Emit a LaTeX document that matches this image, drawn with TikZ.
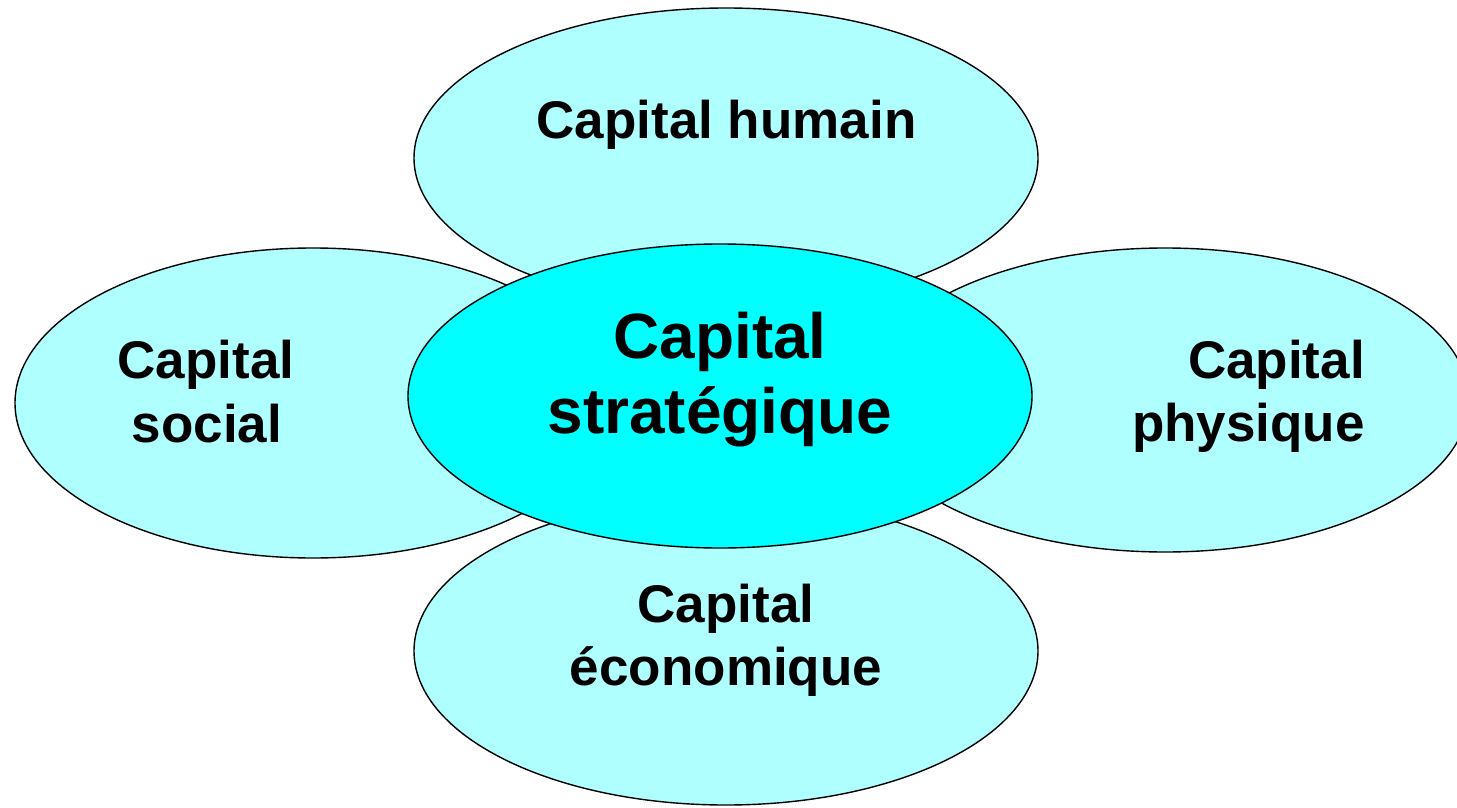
\documentclass[tikz,border=0pt]{standalone}
\usepackage{fontspec}
\setmainfont{Liberation Sans}
\usetikzlibrary{shapes.geometric}
\definecolor{outercyan}{HTML}{AFFFFF}
\definecolor{innercyan}{HTML}{00FFFF}
\tikzset{
  blob/.style={ellipse, draw=black, line width=1.4pt, inner sep=0pt},
  outerblob/.style={blob, fill=outercyan},
  innerblob/.style={blob, fill=innercyan},
  smalltxt/.style={anchor=base, font=\fontsize{53}{64}\selectfont\bfseries, inner sep=0pt},
  bigtxt/.style={anchor=base, font=\fontsize{64}{75}\selectfont\bfseries, inner sep=0pt}
}
\begin{document}
\begin{tikzpicture}[x=1pt,y=-1pt]
\useasboundingbox (0,0) rectangle (1457,808);
\begin{scope}
\clip (0,0) rectangle (1457,808);
\node[outerblob, minimum width=624pt, minimum height=300pt] (hum) at (726,158) {};
\node[outerblob, minimum width=596pt, minimum height=310pt] (soc) at (313,403) {};
\node[outerblob, minimum width=608pt, minimum height=304pt] (phy) at (1165,400) {};
\node[outerblob, minimum width=624pt, minimum height=308pt] (eco) at (726,651) {};
\node[innerblob, minimum width=624pt, minimum height=304pt] (str) at (720,396) {};
\end{scope}
\node[smalltxt] (thum) at (726.5,138) {Capital humain};
\node[smalltxt] (tsoc1) at (206,378) {Capital};
\node[smalltxt] (tsoc2) at (207,442) {social};
\node[smalltxt, anchor=base east] (tphy1) at (1365,378) {Capital};
\node[smalltxt, anchor=base east] (tphy2) at (1365,441) {physique};
\node[smalltxt] (teco1) at (726,622) {Capital};
\node[smalltxt] (teco2) at (726,685) {économique};
\node[bigtxt] (tstr1) at (720,358) {Capital};
\node[bigtxt] (tstr2) at (720,433) {stratégique};
\end{tikzpicture}
\end{document}
